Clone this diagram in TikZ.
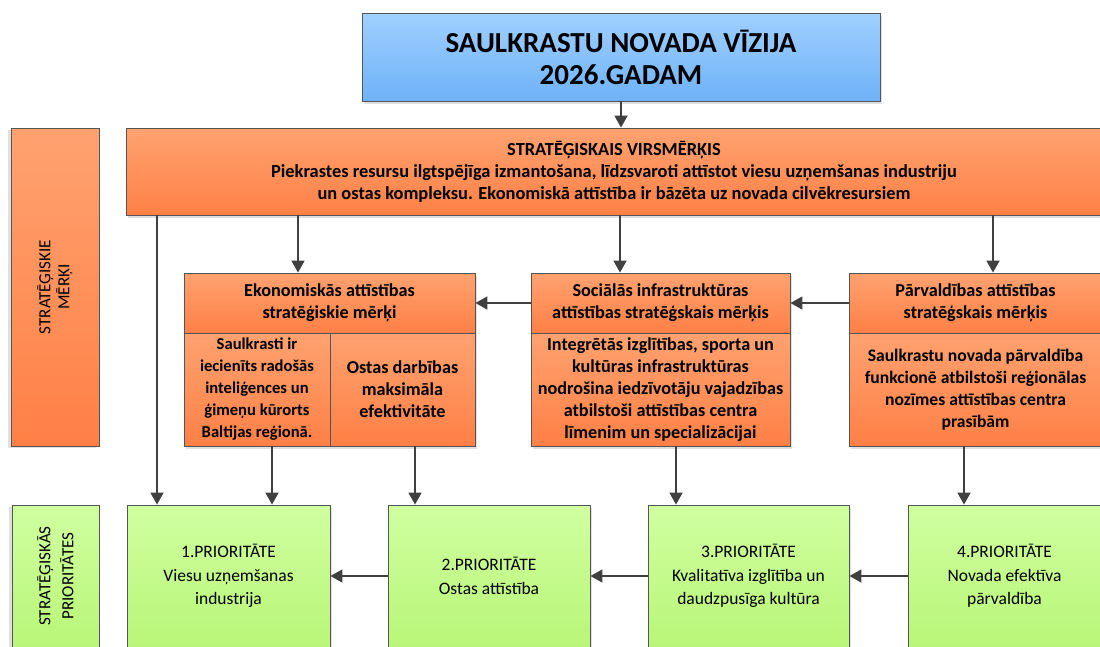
\documentclass[tikz,border=0pt]{standalone}
\usepackage{fontspec}
\setmainfont{Carlito}
\usetikzlibrary{arrows.meta,shadows}

\definecolor{bordc}{RGB}{85,85,85}
\definecolor{arrc}{RGB}{64,64,64}
\definecolor{blueT}{RGB}{160,208,255}
\definecolor{blueB}{RGB}{110,178,248}
\definecolor{orT}{RGB}{255,162,112}
\definecolor{orB}{RGB}{255,128,70}
\definecolor{grT}{RGB}{208,255,160}
\definecolor{grB}{RGB}{184,246,120}

\begin{document}
\begin{tikzpicture}[x=1pt,y=-1pt,
  box/.style={draw=bordc, line width=0.9pt, rectangle, inner sep=0pt, align=center,
    drop shadow={shadow xshift=2pt,shadow yshift=-3pt,fill=black!20,opacity=0.6}},
  orbox/.style={box, top color=orT, bottom color=orB, font=\bfseries\fontsize{18.2}{22}\selectfont},
  grbox/.style={box, top color=grT, bottom color=grB, font=\fontsize{17.5}{23.5}\selectfont},
  sidebox/.style={draw=bordc, line width=0.9pt, rectangle, inner sep=0pt, align=center, rotate=90,
    drop shadow={shadow xshift=-3pt,shadow yshift=-2pt,fill=black!20,opacity=0.6}},
  arr/.style={draw=arrc, line width=1.8pt, -{Triangle[length=12pt,width=13pt]}}
]
\useasboundingbox (0,0) rectangle (1100,646);
\clip (0,0) rectangle (1100,646);

% title
\node[box, top color=blueT, bottom color=blueB, minimum width=518pt, minimum height=88pt,
  font=\bfseries\fontsize{29}{32}\selectfont] (title) at (621,57) {SAULKRASTU NOVADA VĪZIJA\\2026.GADAM};

% main goal
\node[orbox, minimum width=976pt, minimum height=87pt, font=\bfseries\fontsize{18.4}{22}\selectfont] (goal) at (614,171.5)
  {STRATĒĢISKAIS VIRSMĒRĶIS\\Piekrastes resursu ilgtspējīga izmantošana, līdzsvaroti attīstot viesu uzņemšanas industriju\\un ostas kompleksu. Ekonomiskā attīstība ir bāzēta uz novada cilvēkresursiem};

% side labels
\node[sidebox, top color=orT, bottom color=orB, minimum width=318pt, minimum height=88pt,
  font=\fontsize{17}{19}\selectfont] (lab1) at (55,287) {STRATĒĢISKIE\\MĒRĶI};
\node[sidebox, top color=grT, bottom color=grB, minimum width=142pt, minimum height=87pt,
  font=\fontsize{17}{23}\selectfont] (lab2) at (55.5,576) {STRATĒĢISKĀS\\PRIORITĀTES};

% economic goals
\node[orbox, minimum width=291pt, minimum height=60pt] (eco) at (329.5,303)
  {Ekonomiskās attīstības\\stratēģiskie mērķi};
\node[orbox, minimum width=146pt, minimum height=113pt, font=\bfseries\fontsize{16.6}{22}\selectfont] (ecoA) at (257,389.5)
  {Saulkrasti ir\\iecienīts radošās\\inteliģences un\\ģimeņu kūrorts\\Baltijas reģionā.};
\node[orbox, minimum width=145pt, minimum height=113pt] (ecoB) at (402.5,389.5)
  {Ostas darbības\\maksimāla\\efektivitāte};

% social goals
\node[orbox, minimum width=259pt, minimum height=60pt] (soc) at (660.5,303)
  {Sociālās infrastruktūras\\attīstības stratēģskais mērķis};
\node[orbox, minimum width=259pt, minimum height=113pt] (socB) at (660.5,389.5)
  {Integrētās izglītības, sporta un\\kultūras infrastruktūras\\nodrošina iedzīvotāju vajadzības\\atbilstoši attīstības centra\\līmenim un specializācijai};

% governance goals
\node[orbox, minimum width=253pt, minimum height=60pt] (parv) at (975.5,303)
  {Pārvaldības attīstības\\stratēģskais mērķis};
\node[orbox, minimum width=253pt, minimum height=113pt, font=\bfseries\fontsize{17.6}{22}\selectfont] (parvB) at (975.5,389.5)
  {Saulkrastu novada pārvaldība\\funkcionē atbilstoši reģionālas\\nozīmes attīstības centra\\prasībām};

% priorities
\node[grbox, minimum width=203pt, minimum height=142pt] (p1) at (228.5,576)
  {1.PRIORITĀTE\\Viesu uzņemšanas\\industrija};
\node[grbox, minimum width=202pt, minimum height=142pt] (p2) at (489,576)
  {2.PRIORITĀTE\\Ostas attīstība};
\node[grbox, minimum width=201pt, minimum height=142pt] (p3) at (748.5,576)
  {3.PRIORITĀTE\\Kvalitatīva izglītība un\\daudzpusīga kultūra};
\node[grbox, minimum width=193pt, minimum height=142pt] (p4) at (1004.5,576)
  {4.PRIORITĀTE\\Novada efektīva\\pārvaldība};

% connectors
\draw[arr] (title.south) -- (title.south |- goal.north);
\draw[arr] (goal.south -| 298,0) -- (298,0 |- eco.north);
\draw[arr] (goal.south -| 620,0) -- (620,0 |- soc.north);
\draw[arr] (goal.south -| 993,0) -- (993,0 |- parv.north);
\draw[arr] (goal.south -| 157,0) -- (157,0 |- p1.north);
\draw[arr] (soc.west) -- (eco.east);
\draw[arr] (parv.west) -- (soc.east);
\draw[arr] (ecoA.south -| 272,0) -- (272,0 |- p1.north);
\draw[arr] (ecoB.south -| 415,0) -- (415,0 |- p2.north);
\draw[arr] (socB.south -| 676,0) -- (676,0 |- p3.north);
\draw[arr] (parvB.south -| 964,0) -- (964,0 |- p4.north);
\draw[arr] (p2.west) -- (p1.east);
\draw[arr] (p3.west) -- (p2.east);
\draw[arr] (p4.west) -- (p3.east);
\end{tikzpicture}
\end{document}
